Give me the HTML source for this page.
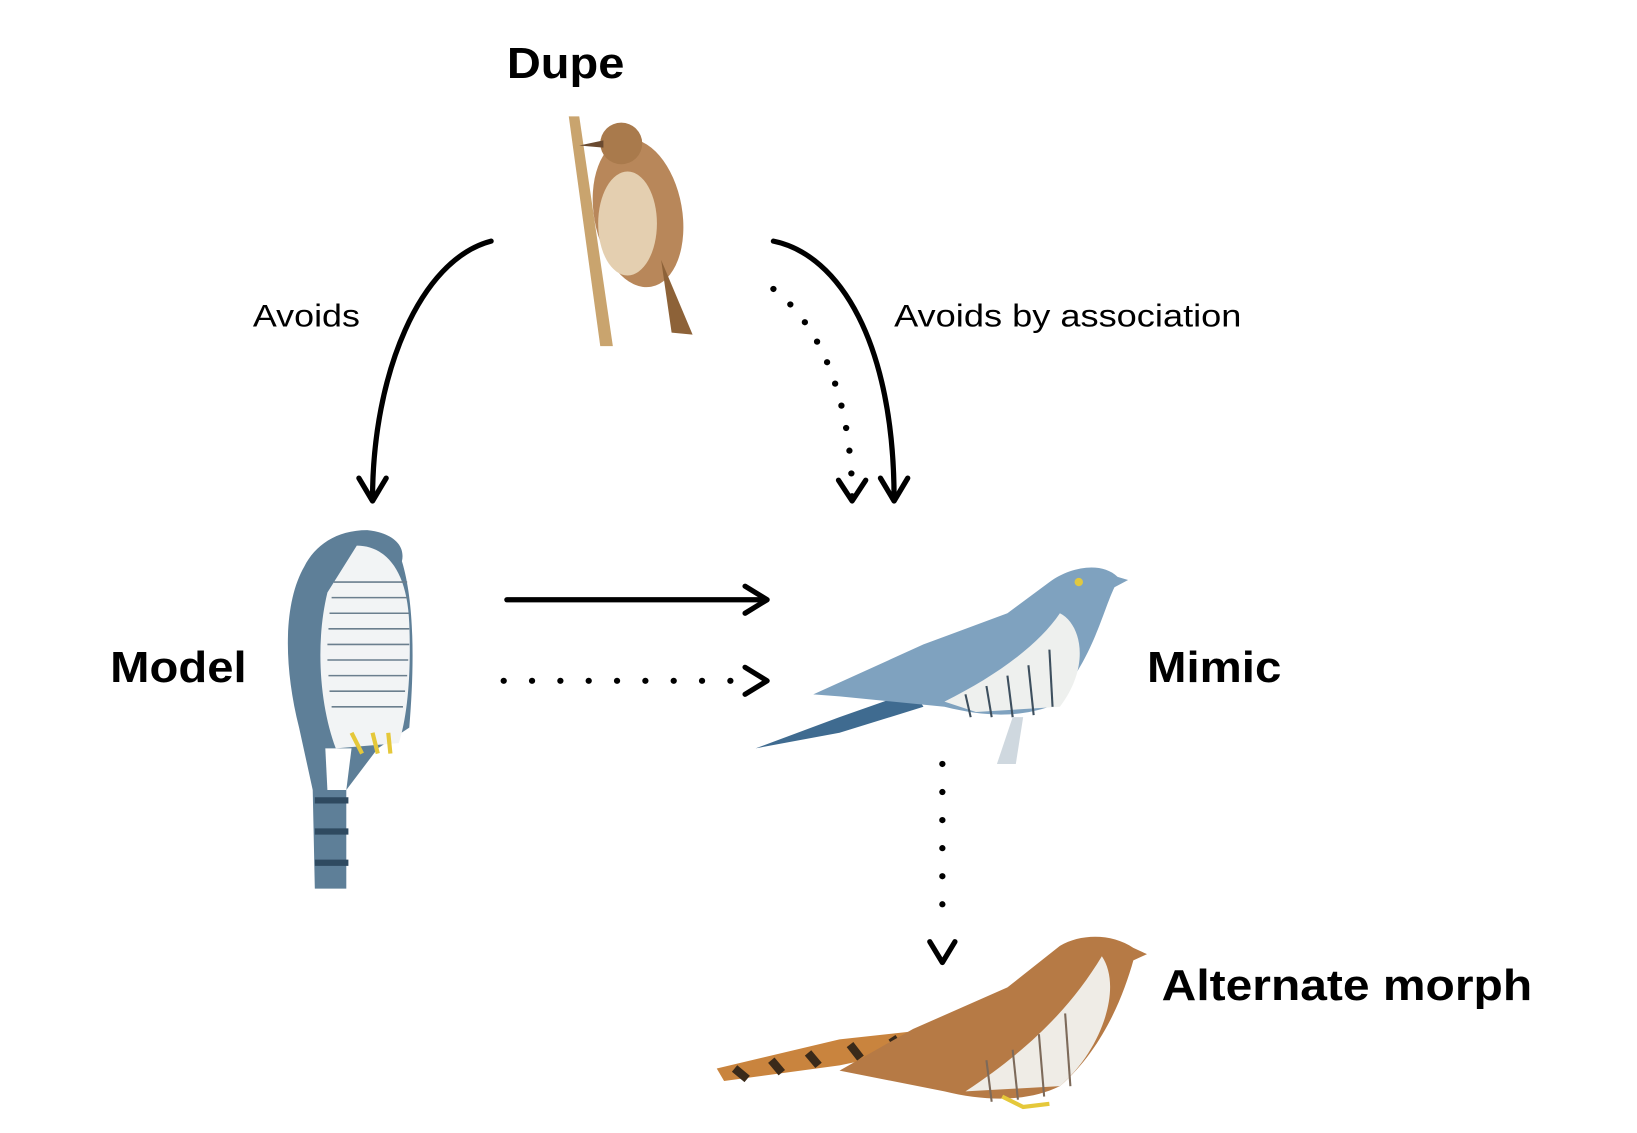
<!DOCTYPE html>
<html><head><meta charset="utf-8"><style>
html,body{margin:0;padding:0;background:#fff;width:1637px;height:1133px;overflow:hidden}
svg{display:block}
</style></head><body>
<svg width="1637" height="1133" viewBox="0 0 1637 1133" xmlns="http://www.w3.org/2000/svg">
<g transform="scale(1.0494,1.0394)">
<g font-family="Liberation Sans, sans-serif" fill="#000">
<text x="539" y="75" font-size="42" font-weight="bold" text-anchor="middle" textLength="112" lengthAdjust="spacingAndGlyphs">Dupe</text>
<text x="170" y="656" font-size="42" font-weight="bold" text-anchor="middle" textLength="130" lengthAdjust="spacingAndGlyphs">Model</text>
<text x="1157" y="656" font-size="42" font-weight="bold" text-anchor="middle" textLength="128" lengthAdjust="spacingAndGlyphs">Mimic</text>
<text x="1107" y="962" font-size="42" font-weight="bold" textLength="353" lengthAdjust="spacingAndGlyphs">Alternate morph</text>
<text x="241" y="314" font-size="30" textLength="102" lengthAdjust="spacingAndGlyphs">Avoids</text>
<text x="852" y="314" font-size="30" textLength="331" lengthAdjust="spacingAndGlyphs">Avoids by association</text>
</g>
<g fill="none" stroke="#000" stroke-linecap="round" stroke-linejoin="round">
<path d="M468,232 C400,250 355,360 355,480" stroke-width="5"/>
<path d="M342,460 L355,482 L368,460" stroke-width="5"/>
<path d="M737,232 C800,245 852,330 852,480" stroke-width="5"/>
<path d="M839,460 L852,482 L865,460" stroke-width="5"/>
<path d="M737,278 C790,320 812,400 812,480" stroke-width="6" stroke-dasharray="0 22"/>
<path d="M799,462 L812,482 L825,462" stroke-width="5"/>
<path d="M483,577 L730,577" stroke-width="5"/>
<path d="M710,564 L731,577 L710,590" stroke-width="5"/>
<path d="M480,655 L700,655" stroke-width="6" stroke-dasharray="0 27"/>
<path d="M710,642 L731,655 L710,668" stroke-width="5"/>
<path d="M898,735 L898,895" stroke-width="6" stroke-dasharray="0 27"/>
<path d="M886,906 L898,926 L910,906" stroke-width="5"/>
</g>
<!-- warbler -->
<path d="M542,112 L552,112 L584,333 L572,333 Z" fill="#c9a46e"/>
<ellipse cx="608" cy="205" rx="42" ry="72" fill="#b8875a" transform="rotate(-10 608 205)"/>
<ellipse cx="598" cy="215" rx="28" ry="50" fill="#e4cfb0"/>
<circle cx="592" cy="138" r="20" fill="#a97a4c"/>
<path d="M575,135 L552,140 L575,142Z" fill="#6a4a30"/>
<path d="M630,250 L660,322 L640,320 Z" fill="#8d6238"/>
<!-- hawk -->
<path d="M350,510 C370,512 387,522 383,540 C395,580 395,640 390,700 L360,720 L330,760 L330,855 L300,855 L298,760 L285,700 C270,640 270,580 290,545 C300,525 320,510 350,510 Z" fill="#5e7f98"/>
<path d="M340,525 C365,525 388,545 390,600 C392,650 388,690 380,715 L320,720 C305,680 300,620 312,570 Z" fill="#f2f4f5"/>
<g stroke="#6b7f8e" stroke-width="1.5">
<line x1="318" y1="560" x2="388" y2="560"/><line x1="316" y1="575" x2="389" y2="575"/><line x1="314" y1="590" x2="390" y2="590"/><line x1="313" y1="605" x2="390" y2="605"/><line x1="312" y1="620" x2="390" y2="620"/><line x1="312" y1="635" x2="389" y2="635"/><line x1="313" y1="650" x2="388" y2="650"/><line x1="314" y1="665" x2="386" y2="665"/><line x1="316" y1="680" x2="384" y2="680"/>
</g>
<path d="M310,720 L335,720 L330,760 L312,760Z" fill="#fff"/>
<path d="M300,770 L332,770 M300,800 L332,800 M300,830 L332,830" stroke="#2f4a60" stroke-width="6"/>
<path d="M335,705 L345,725 M355,705 L360,725 M370,705 L372,725" stroke="#e5c83a" stroke-width="4"/>
<!-- blue cuckoo -->
<path d="M720,720 L800,690 L870,665 L880,680 L800,705 Z" fill="#3f6b90"/>
<path d="M775,668 L880,620 L960,590 L1000,560 C1020,545 1050,540 1065,555 L1075,558 L1062,565 C1050,590 1040,640 1000,680 C970,690 940,690 900,680 L800,670Z" fill="#7fa2bf"/>
<path d="M1010,590 C1030,600 1040,640 1010,680 L930,685 L900,675 C950,650 990,620 1010,590Z" fill="#eef0ee"/>
<g stroke="#3d4f5e" stroke-width="2"><line x1="920" y1="668" x2="925" y2="690"/><line x1="940" y1="660" x2="945" y2="690"/><line x1="960" y1="650" x2="965" y2="690"/><line x1="980" y1="640" x2="985" y2="688"/><line x1="1000" y1="625" x2="1003" y2="680"/></g>
<path d="M950,735 L965,690 L975,690 L968,735Z" fill="#cfd8df"/>
<circle cx="1028" cy="560" r="4" fill="#e0c840"/>
<!-- brown cuckoo -->
<path d="M683,1028 L800,1000 L890,990 L895,1005 L800,1025 L690,1040Z" fill="#c9843e"/>
<path d="M700,1028 L712,1038 M735,1020 L745,1032 M770,1013 L780,1025 M810,1005 L820,1018 M850,998 L858,1010" stroke="#3a2a1a" stroke-width="8"/>
<path d="M800,1030 L870,990 L960,950 L1010,910 C1030,898 1060,898 1080,912 L1093,918 L1080,924 C1070,960 1050,1010 1010,1045 C980,1060 940,1060 900,1050 Z" fill="#b67a45"/>
<path d="M1050,920 C1070,950 1050,1010 1010,1045 L920,1050 C980,1010 1020,970 1050,920Z" fill="#efece6"/>
<g stroke="#7d6a5a" stroke-width="2"><line x1="940" y1="1020" x2="945" y2="1060"/><line x1="965" y1="1010" x2="970" y2="1058"/><line x1="990" y1="995" x2="995" y2="1055"/><line x1="1015" y1="975" x2="1020" y2="1045"/></g>
<path d="M955,1055 L975,1065 L1000,1062" stroke="#e5c83a" stroke-width="4" fill="none"/>
</g>
</svg>
</body></html>
